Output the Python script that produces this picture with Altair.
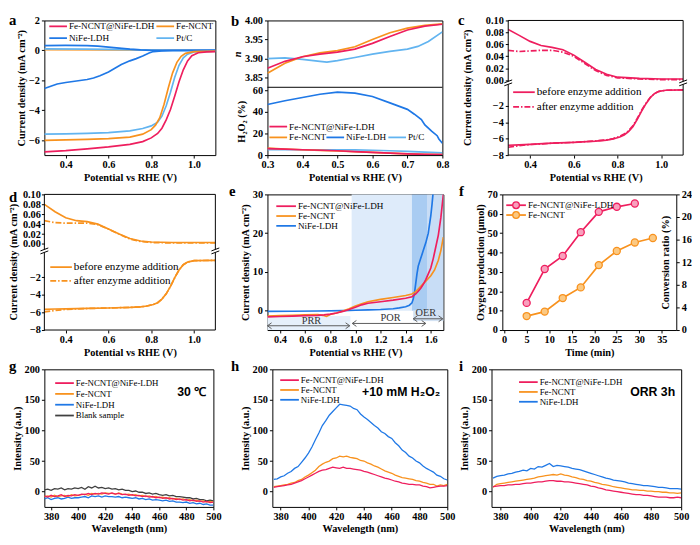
import altair as alt
import numpy as np
import pandas as pd

SERIF = "Liberation Serif"
SANS = "Liberation Sans"
PINK = "#EE1E5E"
PINK_L = "#F8A0BD"
ORANGE = "#F8921E"
ORANGE_L = "#FBC983"
BLUE = "#1F78E6"
LBLUE = "#62B4F0"
DARK = "#404040"
ARROW = "#5C5C5C"
ONE = pd.DataFrame({"v": [0]})

POT = "Potential  vs RHE (V)"
CD = "Current density (mA cm\u207b\u00b2)"

# ---------------- panel a ----------------
A_FN_X = [0.30, 0.40, 0.50, 0.60, 0.70, 0.76, 0.80, 0.83, 0.85, 0.87, 0.89, 0.91, 0.93, 0.95, 0.97, 0.99, 1.02, 1.06, 1.10]
A_FN_Y = [-6.78, -6.70, -6.58, -6.45, -6.28, -6.10, -5.85, -5.55, -5.20, -4.65, -3.95, -3.05, -2.10, -1.30, -0.70, -0.35, -0.16, -0.10, -0.08]
A_FE_X = [0.30, 0.40, 0.50, 0.60, 0.70, 0.76, 0.80, 0.82, 0.84, 0.86, 0.88, 0.90, 0.92, 0.94, 0.96, 1.00, 1.10]
A_FE_Y = [-6.02, -5.98, -5.95, -5.90, -5.80, -5.60, -5.30, -5.00, -4.50, -3.60, -2.50, -1.50, -0.80, -0.40, -0.20, -0.08, -0.05]
A_PT_X = [0.30, 0.40, 0.50, 0.60, 0.70, 0.76, 0.80, 0.83, 0.85, 0.87, 0.89, 0.91, 0.93, 0.95, 0.97, 1.00, 1.10]
A_PT_Y = [-5.60, -5.58, -5.55, -5.50, -5.38, -5.22, -5.05, -4.80, -4.40, -3.70, -2.80, -1.80, -1.00, -0.50, -0.25, -0.10, -0.06]
A_NI_X = [0.30, 0.33, 0.36, 0.40, 0.45, 0.50, 0.53, 0.56, 0.60, 0.63, 0.66, 0.70, 0.73, 0.76, 0.79, 0.81, 0.85, 0.90, 1.10]
A_NI_Y = [-2.55, -2.40, -2.25, -2.15, -2.05, -1.95, -1.85, -1.70, -1.45, -1.20, -0.95, -0.70, -0.55, -0.38, -0.18, -0.08, -0.03, -0.01, 0.00]
A_NIR_X = [0.30, 0.40, 0.50, 0.55, 0.60, 0.65, 0.70, 0.75, 0.80, 1.10]
A_NIR_Y = [0.32, 0.33, 0.32, 0.28, 0.22, 0.15, 0.08, 0.03, 0.00, 0.00]
A_PTR_X = [0.30, 0.50, 0.70, 0.80, 0.90, 1.10]
A_PTR_Y = [0.10, 0.08, 0.05, 0.02, 0.00, 0.00]
A_FER_X = [0.30, 0.70, 1.10]
A_FER_Y = [0.03, 0.02, 0.01]

# ---------------- panel b ----------------
B_X = [0.30, 0.35, 0.40, 0.45, 0.50, 0.55, 0.60, 0.65, 0.70, 0.75, 0.80]
B_N_FN = [3.875, 3.893, 3.905, 3.912, 3.917, 3.925, 3.940, 3.958, 3.975, 3.985, 3.990]
B_N_FE = [3.862, 3.888, 3.905, 3.915, 3.921, 3.931, 3.950, 3.968, 3.980, 3.987, 3.991]
B_N_PT_X = [0.30, 0.35, 0.40, 0.45, 0.47, 0.50, 0.55, 0.60, 0.65, 0.70, 0.73, 0.76, 0.80]
B_N_PT = [3.900, 3.902, 3.898, 3.893, 3.891, 3.895, 3.903, 3.912, 3.919, 3.925, 3.932, 3.945, 3.970]
B_H_NI_X = [0.30, 0.35, 0.40, 0.45, 0.50, 0.55, 0.60, 0.65, 0.70, 0.72, 0.74, 0.75, 0.77, 0.785, 0.79, 0.80]
B_H_NI = [47, 50.5, 53.5, 56.5, 58.5, 57.5, 54.5, 48.5, 42.5, 38, 33, 28, 22, 18, 15, 11]
B_H_FN = [6.0, 5.5, 5.0, 4.5, 4.0, 3.3, 2.5, 1.8, 1.1, 0.7, 0.5]
B_H_FE = [6.5, 5.7, 5.0, 4.4, 3.8, 3.1, 2.5, 1.8, 1.2, 0.8, 0.5]
B_H_PT = [5.0, 5.0, 5.0, 5.0, 5.0, 4.8, 4.5, 4.0, 3.5, 2.8, 2.0]

# ---------------- panels c, d ----------------
CD_X_TOP = [0.30, 0.35, 0.40, 0.45, 0.50, 0.55, 0.60, 0.65, 0.70, 0.75, 0.80, 0.90, 1.00, 1.10]
C_TOP_BEFORE = [0.085, 0.075, 0.065, 0.058, 0.055, 0.051, 0.042, 0.030, 0.018, 0.010, 0.005, 0.003, 0.002, 0.002]
C_TOP_AFTER = [0.050, 0.048, 0.049, 0.050, 0.050, 0.047, 0.040, 0.028, 0.016, 0.008, 0.004, 0.002, 0.001, 0.001]
C_X_BOT = [0.30, 0.35, 0.40, 0.50, 0.60, 0.70, 0.75, 0.78, 0.81, 0.83, 0.85, 0.87, 0.89, 0.91, 0.93, 0.95, 0.97, 0.99, 1.02, 1.10]
C_BOT_BEFORE = [-6.80, -6.75, -6.70, -6.55, -6.45, -6.30, -6.18, -6.05, -5.80, -5.55, -5.15, -4.55, -3.65, -2.65, -1.75, -1.00, -0.50, -0.25, -0.12, -0.08]
C_BOT_AFTER = [-7.05, -6.85, -6.72, -6.56, -6.45, -6.28, -6.15, -6.00, -5.72, -5.45, -5.05, -4.45, -3.55, -2.55, -1.70, -0.98, -0.50, -0.25, -0.12, -0.08]
D_TOP_BEFORE = [0.080, 0.065, 0.053, 0.047, 0.045, 0.040, 0.030, 0.020, 0.011, 0.006, 0.004, 0.003, 0.003, 0.003]
D_TOP_AFTER = [0.047, 0.043, 0.042, 0.042, 0.042, 0.039, 0.030, 0.020, 0.010, 0.005, 0.003, 0.002, 0.002, 0.002]
D_X_BOT = [0.30, 0.35, 0.40, 0.50, 0.60, 0.70, 0.75, 0.78, 0.81, 0.83, 0.85, 0.87, 0.89, 0.91, 0.93, 0.95, 0.97, 1.00, 1.10]
D_BOT_BEFORE = [-5.65, -5.62, -5.60, -5.55, -5.50, -5.44, -5.38, -5.28, -5.10, -4.90, -4.50, -3.90, -3.05, -2.05, -1.20, -0.60, -0.30, -0.14, -0.10]
D_BOT_AFTER = [-5.95, -5.78, -5.66, -5.56, -5.50, -5.44, -5.38, -5.28, -5.10, -4.90, -4.50, -3.90, -3.05, -2.05, -1.20, -0.60, -0.30, -0.14, -0.10]

# ---------------- panel e ----------------
E_FN_X = [0.30, 0.40, 0.50, 0.60, 0.70, 0.75, 0.80, 0.85, 0.90, 0.95, 1.00, 1.05, 1.10, 1.20, 1.30, 1.40, 1.45, 1.48, 1.50, 1.52, 1.54, 1.56, 1.58, 1.60, 1.62, 1.64, 1.66, 1.68, 1.70]
E_FN_Y = [-1.6, -1.5, -1.4, -1.3, -1.2, -1.1, -0.9, -0.6, -0.2, 0.3, 0.9, 1.5, 1.9, 2.3, 2.7, 3.2, 3.6, 4.3, 5.0, 5.8, 6.8, 8.0, 9.5, 11.0, 13.5, 16.5, 19.5, 24.0, 30.0]
E_FE_X = [0.30, 0.40, 0.50, 0.60, 0.70, 0.74, 0.77, 0.80, 0.85, 0.90, 0.95, 1.00, 1.05, 1.10, 1.20, 1.30, 1.40, 1.45, 1.48, 1.50, 1.53, 1.56, 1.60, 1.63, 1.66, 1.68, 1.70]
E_FE_Y = [-1.4, -1.3, -1.2, -1.1, -1.0, -1.2, -1.5, -1.0, -0.6, -0.1, 0.5, 1.2, 1.8, 2.3, 2.9, 3.4, 3.9, 4.3, 4.9, 5.6, 6.6, 7.6, 9.0, 10.5, 13.0, 15.5, 19.0]
E_NI_X = [0.30, 0.50, 0.70, 0.90, 1.00, 1.10, 1.20, 1.30, 1.35, 1.40, 1.43, 1.45, 1.46, 1.47, 1.48, 1.49, 1.50, 1.52, 1.54, 1.56, 1.58, 1.60, 1.61, 1.62]
E_NI_Y = [-0.2, -0.15, -0.1, 0.0, 0.1, 0.2, 0.3, 0.5, 0.7, 1.0, 1.4, 2.0, 3.0, 4.5, 7.0, 9.5, 11.5, 13.5, 15.5, 17.5, 20.0, 24.5, 27.5, 31.0]
E_REG_X0 = [0.30, 0.97, 1.45, 1.57, 1.46]
E_REG_X1 = [0.96, 1.45, 1.57, 1.70, 1.70]
E_REG_Y0 = [-5.0, 0.0, 0.0, 0.0, -2.7]
E_REG_Y1 = [-1.4, 30.0, 30.0, 30.0, 0.0]
E_REG_C = ["#E6F0FB", "#DEEBFA", "#A9CCF2", "#C8DDF6", "#D3E2F3"]
E_ARR_X0 = [0.30, 0.975, 1.46]
E_ARR_X1 = [0.955, 1.56, 1.695]
E_ARR_Y = [-3.9, -3.3, -2.1]
E_LAB = ["PRR", "POR", "OER"]
E_LAB_X = [0.65, 1.28, 1.56]
E_LAB_Y = [-2.8, -1.9, -0.5]

# ---------------- panel f ----------------
F_T_FN = [5, 9, 13, 17, 21, 25, 29]
F_O2_FN = [14.0, 31.5, 38.2, 50.5, 61.0, 63.6, 65.3]
F_T_FE = [5, 9, 13, 17, 21, 25, 29, 33]
F_O2_FE = [7.2, 9.5, 16.5, 22.0, 33.5, 40.8, 45.2, 47.5]
F_RATIO_RANGE = [0, 24]

# ---------------- panels g, h, i ----------------
WL = [float(v) for v in np.arange(375.0, 500.01, 2.5)]
G_BLANK = [3, 4, 2, 5, 4, 6, 3, 5, 4, 6, 5, 7, 4, 8, 6, 9, 6, 7, 5, 6, 4, 5, 3, 4, 2, 2, 0, 1, -1, -1,
           -3, -2, -4, -3, -5, -6, -5, -7, -6, -8, -8, -9, -10, -10, -12, -11, -13, -13, -15, -14, -15]
G_FN = [-7, -9, -6, -8, -7, -5, -8, -6, -7, -5, -6, -4, -5, -3, -5, -3, -4, -2, -3, -4, -2, -4, -3, -5, -4, -6, -5, -7, -6, -8,
        -7, -9, -8, -10, -9, -11, -10, -12, -11, -13, -12, -14, -13, -15, -14, -16, -15, -17, -16, -18, -17]
G_FE = [-8, -7, -9, -6, -8, -7, -6, -8, -5, -7, -6, -5, -4, -6, -3, -4, -3, -4, -2, -3, -3, -4, -2, -4, -5, -4, -6, -5, -7, -6,
        -8, -7, -9, -8, -10, -9, -11, -10, -12, -11, -13, -12, -14, -13, -15, -14, -16, -15, -17, -16, -17]
G_NI = [-12, -10, -13, -11, -10, -12, -11, -9, -11, -10, -10, -9, -8, -10, -7, -8, -7, -9, -7, -8, -8, -9, -8, -10, -9, -10, -11, -10, -12, -11,
        -13, -12, -14, -13, -14, -15, -14, -16, -15, -17, -17, -18, -17, -19, -18, -20, -19, -21, -20, -22, -22]
H_NI = [20, 21, 24, 26, 30, 33, 38, 41, 48, 55, 63, 73, 85, 96, 108, 116, 125, 131, 137, 143, 142, 141, 140, 136, 134, 127, 122, 118, 113, 108,
        104, 98, 95, 90, 87, 80, 75, 68, 64, 58, 55, 50, 47, 42, 38, 35, 32, 27, 25, 21, 19]
H_FE = [8, 9, 10, 11, 12, 14, 15, 18, 20, 24, 27, 31, 35, 41, 45, 48, 50, 54, 55, 58, 57, 58, 56, 55, 54, 51, 50, 47, 45, 42,
        40, 37, 34, 32, 30, 27, 25, 23, 22, 21, 20, 18, 17, 15, 14, 12, 12, 9, 11, 10, 12]
H_FN = [7, 8, 9, 10, 11, 12, 14, 16, 18, 21, 24, 27, 30, 33, 35, 36, 38, 40, 39, 38, 40, 38, 38, 37, 36, 35, 33, 32, 30, 28,
        26, 24, 22, 21, 19, 17, 16, 14, 13, 12, 12, 11, 11, 9, 8, 6, 7, 8, 9, 9, 10]
I_NI = [22, 25, 26, 27, 29, 30, 32, 33, 35, 34, 38, 37, 41, 40, 43, 46, 41, 43, 42, 41, 40, 38, 37, 36, 34, 32, 30, 28, 26, 24,
        22, 21, 19, 18, 17, 16, 14, 13, 12, 11, 10, 10, 9, 8, 7, 7, 6, 5, 5, 5, 4]
I_FE = [7, 12, 13, 14, 15, 16, 17, 18, 19, 20, 21, 22, 24, 25, 26, 27, 28, 27, 29, 27, 26, 24, 23, 21, 20, 18, 17, 15, 14, 12,
        11, 10, 8, 7, 6, 5, 4, 3, 3, 2, 2, 1, 1, 0, 0, -1, -1, -2, -2, -3, -2]
I_FN = [8, 9, 10, 10, 11, 11, 12, 12, 13, 14, 14, 15, 16, 16, 17, 18, 18, 17, 17, 16, 16, 15, 14, 13, 12, 11, 9, 8, 6, 5,
        3, 2, 1, 0, -1, -2, -3, -4, -5, -5, -6, -6, -7, -8, -9, -9, -9, -10, -10, -9, -10]


# ---------------- helpers ----------------
def scale(lo, hi, rng=None):
    if rng is None:
        return alt.Scale(domain=[lo, hi], nice=False, zero=False)
    return alt.Scale(domain=[lo, hi], nice=False, zero=False, range=rng)


def series(x, y, color, xs, xa, ys, ya, dash=None, sw=1.7):
    df = pd.DataFrame({"x": list(x), "y": list(y)})
    kw = dict(color=color, strokeWidth=sw, clip=True)
    if dash is not None:
        kw["strokeDash"] = dash
    return alt.Chart(df).mark_line(**kw).encode(
        x=alt.X("x:Q", scale=xs, axis=xa), y=alt.Y("y:Q", scale=ys, axis=ya))


def rule_px(x, y, x2=None, y2=None, color="black", sw=1.0, dash=None):
    kw = dict(color=color, strokeWidth=sw)
    if dash is not None:
        kw["strokeDash"] = dash
    enc = dict(x=alt.value(x), y=alt.value(y))
    if x2 is not None:
        enc["x2"] = alt.value(x2)
    if y2 is not None:
        enc["y2"] = alt.value(y2)
    return alt.Chart(ONE).mark_rule(**kw).encode(**enc)


def text_px(s, x, y, size, font=SERIF, weight="normal", align="left", baseline="middle",
            angle=0, color="black", style="normal"):
    kw = dict(text=s, font=font, fontSize=size, fontWeight=weight, align=align,
              baseline=baseline, color=color)
    if angle:
        kw["angle"] = angle
    if style != "normal":
        kw["fontStyle"] = style
    return alt.Chart(ONE).mark_text(**kw).encode(x=alt.value(x), y=alt.value(y))


def letter(ch, x, y):
    return text_px(ch, x, y, 15, weight="bold", baseline="alphabetic")


def leg(label, color, x0, y, length, size, dash=None, fill=None, sw=1.8):
    out = [rule_px(x0, y, x2=x0 + length, color=color, sw=sw, dash=dash)]
    if fill is not None:
        out.append(alt.Chart(ONE).mark_circle(size=46, fill=fill, stroke=color, strokeWidth=1.3,
                                              opacity=1).encode(x=alt.value(x0 + length / 2), y=alt.value(y)))
    out.append(text_px(label, x0 + length + 2, y, size))
    return out


def anchor(L, R, T, B, W, H):
    return rule_px(-L, -T, x2=W + R, y2=H + B, color="white", sw=0)


def finish(layers, W, H, L, R, T, B, resolve=False, stroke=True):
    ch = alt.layer(*layers, anchor(L, R, T, B, W, H))
    if resolve:
        ch = ch.resolve_scale(y="independent")
    kw = dict(width=W, height=H)
    if not stroke:
        kw["view"] = alt.ViewBackground(stroke="transparent")
    return ch.properties(**kw)


def broken_frame(W, H, Ht, gap):
    out = [rule_px(0, 0, x2=W), rule_px(0, H, x2=W)]
    for x in (0, W):
        out.append(rule_px(x, 0, y2=Ht))
        out.append(rule_px(x, Ht + gap, y2=H))
        out.append(rule_px(x - 4, Ht + 1.5, x2=x + 4, y2=Ht - 1.5))
        out.append(rule_px(x - 4, Ht + gap + 1.5, x2=x + 4, y2=Ht + gap - 1.5))
    return out


H1, H2, H3 = 137, 138, 140
LEG = 9.3
DASHDOT = [6, 2, 1.5, 2]
L1 = 36  # left room of the first column

# ---------------- a ----------------
W = 174
xs = scale(0.3, 1.1)
xa = alt.Axis(values=[0.4, 0.6, 0.8, 1.0], format=".1f", title=POT)
ys = scale(-7, 2)
ya = alt.Axis(values=[-6, -4, -2, 0, 2], format="d", title=CD)
lay = [
    series(A_FER_X, A_FER_Y, ORANGE, xs, xa, ys, ya, sw=1.2),
    series(A_PTR_X, A_PTR_Y, LBLUE, xs, xa, ys, ya),
    series(A_NIR_X, A_NIR_Y, BLUE, xs, xa, ys, ya),
    series(A_NI_X, A_NI_Y, BLUE, xs, xa, ys, ya),
    series(A_PT_X, A_PT_Y, LBLUE, xs, xa, ys, ya),
    series(A_FE_X, A_FE_Y, ORANGE, xs, xa, ys, ya),
    series(A_FN_X, A_FN_Y, PINK, xs, xa, ys, ya),
]
lay += leg("Fe-NCNT@NiFe-LDH", PINK, 5, 6, 18, LEG) + leg("Fe-NCNT", ORANGE, 114, 6, 18, LEG)
lay += leg("NiFe-LDH", BLUE, 5, 18, 18, LEG) + leg("Pt/C", LBLUE, 114, 18, 18, LEG)
lay.append(letter("a", -L1, 5))
panel_a = finish(lay, W, H1, L1, 14, 7, 28)

# ---------------- b ----------------
W = 178
HT = 68
xs = scale(0.3, 0.8)
xa = alt.Axis(values=[0.3, 0.4, 0.5, 0.6, 0.7, 0.8], format=".1f", title=POT)
yst = scale(3.825, 4.0, [HT, 0])
yat = alt.Axis(orient="left", values=[3.85, 3.90, 3.95, 4.00], format=".2f", title="n",
               titleFontStyle="italic")
ysb = scale(0, 63, [H1, HT])
yab = alt.Axis(orient="left", values=[0, 20, 40, 60], format="d", title="H\u2082O\u2082 (%)", titlePadding=6)
top = alt.layer(series(B_N_PT_X, B_N_PT, LBLUE, xs, xa, yst, yat),
                series(B_X, B_N_FE, ORANGE, xs, xa, yst, yat),
                series(B_X, B_N_FN, PINK, xs, xa, yst, yat))
bot = alt.layer(series(B_H_NI_X, B_H_NI, BLUE, xs, xa, ysb, yab),
                series(B_X, B_H_PT, LBLUE, xs, xa, ysb, yab),
                series(B_X, B_H_FE, ORANGE, xs, xa, ysb, yab),
                series(B_X, B_H_FN, PINK, xs, xa, ysb, yab))
lay = [top, bot, rule_px(0, HT, x2=W)]
lay += leg("Fe-NCNT@NiFe-LDH", PINK, 2, 108, 18, LEG)
lay += leg("Fe-NCNT", ORANGE, 2, 119, 18, LEG) + leg("NiFe-LDH", BLUE, 60, 119, 18, LEG)
lay += leg("Pt/C", LBLUE, 123, 119, 18, LEG)
lay.append(letter("b", -37, 6))
panel_b = finish(lay, W, H1, 37, 14, 7, 28, resolve=True)


# ---------------- c / d ----------------
def enzyme_panel(W, H, Ht, gap, top_dom, bot_dom, top_b, top_a, xb, bot_b, bot_a, color,
                 leg_x, leg_y, title_x, let, let_xy, L, R, T, B, lpad=2):
    xs = scale(0.3, 1.1)
    xa = alt.Axis(values=[0.4, 0.6, 0.8, 1.0], format=".1f", title=POT)
    yst = scale(top_dom[0], top_dom[1], [Ht, 0])
    yat = alt.Axis(orient="left", values=[0.0, 0.02, 0.04, 0.06, 0.08, 0.10], format=".2f", title=None,
                   labelPadding=lpad)
    ysb = scale(bot_dom[0], bot_dom[1], [H, Ht + gap])
    yab = alt.Axis(orient="left", values=[-8, -6, -4, -2], format="d", title=None, labelPadding=lpad)
    top = alt.layer(series(CD_X_TOP, top_a, color, xs, xa, yst, yat, dash=DASHDOT),
                    series(CD_X_TOP, top_b, color, xs, xa, yst, yat))
    bot = alt.layer(series(xb, bot_a, color, xs, xa, ysb, yab, dash=DASHDOT),
                    series(xb, bot_b, color, xs, xa, ysb, yab))
    lay = [top, bot] + broken_frame(W, H, Ht, gap)
    lay += leg("before enzyme addition", color, leg_x, leg_y[0], 22, 11.3)
    lay += leg("after enzyme addition", color, leg_x, leg_y[1], 22, 11.3, dash=DASHDOT)
    lay.append(text_px(CD, title_x, H / 2, 10.5, weight="bold", align="center", angle=270))
    lay.append(letter(let, let_xy[0], let_xy[1]))
    return finish(lay, W, H, L, R, T, B, resolve=True, stroke=False)


panel_c = enzyme_panel(178, H1, 62, 3, [-0.002, 0.10], [-8, 0.6], C_TOP_BEFORE, C_TOP_AFTER,
                       C_X_BOT, C_BOT_BEFORE, C_BOT_AFTER, PINK, 5, [73, 88], -41, "c", (-51, 5),
                       51, 2, 7, 28)
panel_d = enzyme_panel(174, H2, 56, 3, [-0.011, 0.10], [-8, 0.8], D_TOP_BEFORE, D_TOP_AFTER,
                       D_X_BOT, D_BOT_BEFORE, D_BOT_AFTER, ORANGE, 6, [74, 88], -30.5, "d", (-L1, 8),
                       L1, 12, 10, 28, lpad=1)

# ---------------- e ----------------
W = 179
xs = scale(0.3, 1.7)
xa = alt.Axis(values=[0.4, 0.6, 0.8, 1.0, 1.2, 1.4, 1.6], format=".1f", title=POT)
ys = scale(-5, 30)
ya = alt.Axis(values=[0, 10, 20, 30], format="d", title=CD)
reg = pd.DataFrame({"x0": E_REG_X0, "x1": E_REG_X1, "y0": E_REG_Y0, "y1": E_REG_Y1, "c": E_REG_C})
arr = pd.DataFrame({"x0": E_ARR_X0, "x1": E_ARR_X1, "y": E_ARR_Y})
labs = pd.DataFrame({"x": E_LAB_X, "y": E_LAB_Y, "t": E_LAB})
lay = [
    alt.Chart(reg).mark_rect().encode(
        x=alt.X("x0:Q", scale=xs, axis=xa), x2="x1:Q",
        y=alt.Y("y0:Q", scale=ys, axis=ya), y2="y1:Q",
        color=alt.Color("c:N", scale=None)),
    alt.Chart(arr).mark_rule(color=ARROW, strokeWidth=1).encode(
        x=alt.X("x0:Q", scale=xs, axis=xa), x2="x1:Q", y=alt.Y("y:Q", scale=ys, axis=ya)),
    alt.Chart(arr).mark_point(shape="M1.4,-1L0,0L1.4,1", filled=False, size=36, color=ARROW,
                              strokeWidth=1, opacity=1).encode(
        x=alt.X("x0:Q", scale=xs, axis=xa), y=alt.Y("y:Q", scale=ys, axis=ya)),
    alt.Chart(arr).mark_point(shape="M-1.4,-1L0,0L-1.4,1", filled=False, size=36, color=ARROW,
                              strokeWidth=1, opacity=1).encode(
        x=alt.X("x1:Q", scale=xs, axis=xa), y=alt.Y("y:Q", scale=ys, axis=ya)),
    alt.Chart(labs).mark_text(font=SERIF, fontSize=10.5, color="#333333").encode(
        x=alt.X("x:Q", scale=xs, axis=xa), y=alt.Y("y:Q", scale=ys, axis=ya), text="t:N"),
    series(E_NI_X, E_NI_Y, BLUE, xs, xa, ys, ya),
    series(E_FE_X, E_FE_Y, ORANGE, xs, xa, ys, ya),
    series(E_FN_X, E_FN_Y, PINK, xs, xa, ys, ya),
]
lay += leg("Fe-NCNT@NiFe-LDH", PINK, 9, 12, 20, LEG) + leg("Fe-NCNT", ORANGE, 9, 22, 20, LEG)
lay += leg("NiFe-LDH", BLUE, 9, 32, 20, LEG)
lay.append(letter("e", -39, 2))
panel_e = finish(lay, W, H2, 39, 14, 10, 28)

# ---------------- f ----------------
W = 177
xs = scale(-0.4, 38.2)
xa = alt.Axis(values=[0, 5, 10, 15, 20, 25, 30, 35], format="d", title="Time (min)")
ys = scale(0, 70)
ya = alt.Axis(values=[0, 10, 20, 30, 40, 50, 60, 70], format="d", title="Oxygen production (\u03bcmol)")
fn = pd.DataFrame({"x": F_T_FN, "y": F_O2_FN})
fe = pd.DataFrame({"x": F_T_FE, "y": F_O2_FE})


def f_pts(df, color, fill):
    return alt.Chart(df).mark_circle(size=52, fill=fill, stroke=color, strokeWidth=1.3, opacity=1).encode(
        x=alt.X("x:Q", scale=xs, axis=xa), y=alt.Y("y:Q", scale=ys, axis=ya))


left = alt.layer(series(F_T_FE, F_O2_FE, ORANGE, xs, xa, ys, ya), f_pts(fe, ORANGE, ORANGE_L),
                 series(F_T_FN, F_O2_FN, PINK, xs, xa, ys, ya), f_pts(fn, PINK, PINK_L))
right = alt.Chart(pd.DataFrame({"r": F_RATIO_RANGE})).mark_point(opacity=0).encode(
    x=alt.value(0),
    y=alt.Y("r:Q", scale=scale(0, 24),
            axis=alt.Axis(orient="right", values=[0, 4, 8, 12, 16, 20, 24], format="d",
                          title="Conversion ratio (%)", titleX=-11, titleY=H2 / 2, titleAngle=270,
                          titleAlign="center", titleBaseline="middle")))
lay = [left, right]
lay += leg("Fe-NCNT@NiFe-LDH", PINK, 4, 11, 20, LEG, fill=PINK_L)
lay += leg("Fe-NCNT", ORANGE, 4, 21, 20, LEG, fill=ORANGE_L)
lay.append(letter("f", -44, 2))
panel_f = finish(lay, W, H2, 44, 14, 10, 28, resolve=True)


# ---------------- g, h, i ----------------
def spectra(W, xlo, series_list, leg_x, leg_ys, note, note_x, let, let_xy, L, R):
    xs = scale(xlo, 500)
    xa = alt.Axis(values=[380, 400, 420, 440, 460, 480, 500], format="d", title="Wavelength (nm)")
    ys = scale(-25, 200)
    ya = alt.Axis(values=[0, 50, 100, 150, 200], format="d", title="Intensity (a.u.)")
    lay = []
    for lab, vals, col in reversed(series_list):
        lay.append(series(WL, vals, col, xs, xa, ys, ya, sw=1.3))
    for (lab, vals, col), yy in zip(series_list, leg_ys):
        lay += leg(lab, col, leg_x, yy, 19, 9.0)
    lay.append(text_px(note, note_x, 23, 12.5, font=SANS, weight="bold", align="center"))
    lay.append(letter(let, let_xy[0], let_xy[1]))
    return finish(lay, W, H3, L, R, 10, 29)


panel_g = spectra(172, 375, [("Fe-NCNT@NiFe-LDH", G_FN, PINK), ("Fe-NCNT", G_FE, ORANGE),
                             ("NiFe-LDH", G_NI, BLUE), ("Blank sample", G_BLANK, DARK)],
                  11, [14, 25, 36, 47], "30 \u2103", 150, "g", (-L1, 2), L1, 16)
panel_h = spectra(178, 374, [("Fe-NCNT@NiFe-LDH", H_FN, PINK), ("Fe-NCNT", H_FE, ORANGE),
                             ("NiFe-LDH", H_NI, BLUE)],
                  8, [11, 21, 31], "+10 mM H\u2082O\u2082", 131, "h", (-42, 2), 42, 10)
panel_i = spectra(193, 374, [("Fe-NCNT@NiFe-LDH", I_FN, PINK), ("Fe-NCNT", I_FE, ORANGE),
                             ("NiFe-LDH", I_NI, BLUE)],
                  28, [13, 23, 33], "ORR 3h", 164, "i", (-33, 2), 33, 10)

row1 = alt.hconcat(panel_a, panel_b, panel_c, spacing=0)
row2 = alt.hconcat(panel_d, panel_e, panel_f, spacing=0)
row3 = alt.hconcat(panel_g, panel_h, panel_i, spacing=0)

chart = alt.vconcat(row1, row2, row3, spacing=0).properties(padding=0).configure_axis(
    labelFont=SERIF, labelFontSize=10.5, labelFontWeight="bold", labelColor="black",
    titleFont=SERIF, titleFontSize=10.5, titleFontWeight="bold", titleColor="black",
    tickColor="black", tickSize=3, tickWidth=1, domain=False, grid=False,
    labelPadding=2, titlePadding=2, labelFlush=False, labelOverlap=False,
).configure_view(stroke="black", strokeWidth=1)

chart.save("out.html", embed_options={"renderer": "svg", "actions": False})
